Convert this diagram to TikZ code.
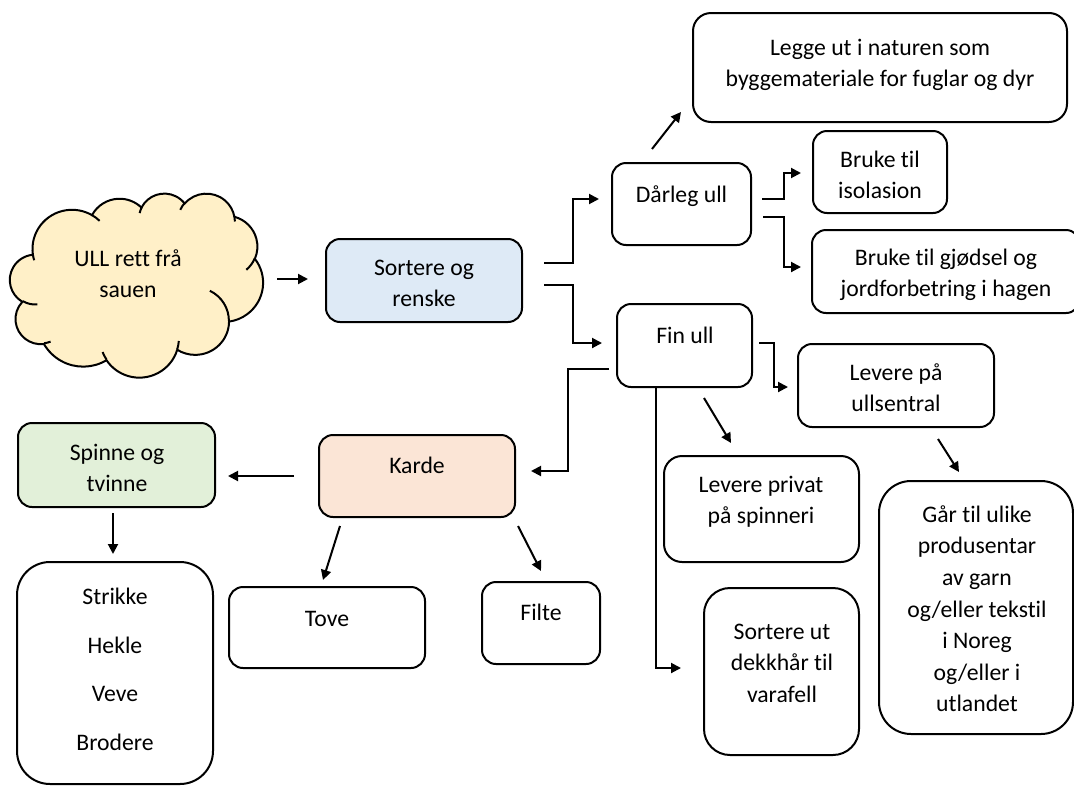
\documentclass[tikz,border=0pt]{standalone}
\usepackage{fontspec}
\setmainfont{Carlito}[Ligatures=NoCommon]
\usetikzlibrary{arrows.meta, calc}
\definecolor{cloudfill}{HTML}{FFF0C8}
\definecolor{bluefill}{HTML}{DEEAF6}
\definecolor{orangefill}{HTML}{FBE5D6}
\definecolor{greenfill}{HTML}{E2F0D9}
\begin{document}
\begin{tikzpicture}[x=1pt, y=-1pt,
  box/.style={draw=black, line width=2pt, rounded corners=14pt, inner sep=0pt},
  txt/.style={font=\fontsize{23.7}{31.6}\selectfont, align=center, inner sep=0pt, anchor=north},
  arr/.style={line width=2pt, -{Triangle[length=10pt,width=10pt]}},
  cloudline/.style={draw=black, line width=2pt},
  ooarc/.style n args={4}{x radius=#1, y radius=#2,
     start angle={atan2(#1*sin(#3),#2*cos(#3))},
     delta angle={mod(atan2(#1*sin(#3+#4),#2*cos(#3+#4))-atan2(#1*sin(#3),#2*cos(#3))+720,360)}}
]
\useasboundingbox (0,0) rectangle (1074,785);
\clip (0,0) rectangle (1074,785);

% cloud (drawn shape) and its anchor node
\begin{scope}[shift={(10,193)}, x=0.058565pt, y=-0.042593pt]
  \path[cloudline, fill=cloudfill] (390,1437)
    foreach \ra/\rb/\sa/\sw in {675.3/919.0/-190.4875/123.7805,
      533.3/726.7/-144.1024/89.9452, 436.5/594.5/-145.8079/99.7230,
      485.7/659.5/-130.9861/117.2417, 533.3/727.3/-78.7089/109.0269,
      677.5/922.0/-46.2673/130.2690, 578.5/786.7/0.6250/114.0333,
      675.2/921.5/22.4516/115.1726, 772.0/1054.3/66.2426/75.7110,
      436.0/591.8/-274.9421/146.7356, 434.5/594.5/-246.8285/152.5189}
    { arc[ooarc={\ra}{\rb}{\sa}{\sw}] } -- cycle;
  \foreach \px/\py/\ra/\rb/\sa/\sw in {469.3/2617.7/434.5/594.5/86.7420/26.4295,
      692.8/3489.9/436.0/591.8/73.6105/11.4475,
      1647.8/3909.0/675.2/921.5/137.6242/14.0811,
      2882.7/3475.1/675.2/921.5/6.4533/15.9984,
      3412.9/2295.4/578.5/786.7/-70.2924/70.9174,
      4179.8/1535.4/533.3/727.3/30.3180/27.7515,
      3832.4/542.6/485.7/659.5/-13.7443/14.8548,
      2907.8/395.2/485.7/659.5/-149.1815/18.1874,
      2214.1/472.0/436.5/594.5/-163.4943/17.6857,
      1400.0/519.2/675.3/919.0/-66.7070/12.3194,
      412.7/1578.9/675.3/919.0/157.6544/11.8582}
    { \draw[cloudline] (\px,\py) arc[ooarc={\ra}{\rb}{\sa}{\sw}]; }
\end{scope}
\node[minimum width=253, minimum height=184, inner sep=0pt] (cloud) at (136.5,285) {};

% boxes
\node[box, fill=bluefill, minimum width=196, minimum height=83] (sort) at (424,280.5) {};
\node[box, minimum width=139, minimum height=82] (dar) at (681.5,204) {};
\node[box, rounded corners=18pt, minimum width=374, minimum height=109] (legge) at (880,67.5) {};
\node[box, minimum width=134, minimum height=82] (iso) at (880,172) {};
\node[box, minimum width=268, minimum height=83] (gjo) at (946,271.5) {};
\node[box, minimum width=135, minimum height=83] (fin) at (684.5,345.5) {};
\node[box, minimum width=196, minimum height=83] (ull) at (896,385.5) {};
\node[box, rounded corners=18pt, minimum width=195, minimum height=106] (privat) at (761.5,509) {};
\node[box, rounded corners=26pt, minimum width=155, minimum height=167] (sortut) at (781.5,671.5) {};
\node[box, rounded corners=32pt, minimum width=194, minimum height=253] (gar) at (976,607.5) {};
\node[box, fill=orangefill, minimum width=196, minimum height=82] (karde) at (417,476) {};
\node[box, fill=greenfill, minimum width=197, minimum height=84] (spinne) at (116.5,465) {};
\node[box, rounded corners=33pt, minimum width=196, minimum height=222] (strikke) at (115,673) {};
\node[box, minimum width=196, minimum height=81] (tove) at (327,627.5) {};
\node[box, minimum width=118, minimum height=82] (filte) at (541,623) {};

% texts
\node[txt] (tcloud) at (128,244) {\strut ULL rett frå\\sauen};
\node[txt] (tsort) at (424,253) {\strut Sortere og\\renske};
\node[txt] (tdar) at (681.5,180) {\strut Dårleg ull};
\node[txt] (tlegge) at (880,33) {\strut Legge ut i naturen som\\byggemateriale for fuglar og dyr};
\node[txt] (tiso) at (880,145) {\strut Bruke til\\isolasion};
\node[txt] (tgjo) at (946,243) {\strut Bruke til gjødsel og\\jordforbetring i hagen};
\node[txt] (tfin) at (685,321) {\strut Fin ull};
\node[txt] (tull) at (896,358) {\strut Levere på\\ullsentral};
\node[txt] (tprivat) at (761,470) {\strut Levere privat\\på spinneri};
\node[txt] (tsortut) at (782,617) {\strut Sortere ut\\dekkhår til\\varafell};
\node[txt] (tgar) at (977,500) {\strut Går til ulike\\produsentar\\av garn\\og/eller tekstil\\i Noreg\\og/eller i\\utlandet};
\node[txt] (tkarde) at (417,451) {\strut Karde};
\node[txt] (tspinne) at (117,438) {\strut Spinne og\\tvinne};
\node[txt] (tstrikke) at (115,582) {\strut Strikke\\[17.1pt]Hekle\\[17.1pt]Veve\\[17.1pt]Brodere};
\node[txt] (ttove) at (327,604) {\strut Tove};
\node[txt] (tfilte) at (541,598) {\strut Filte};

% connectors
\draw[arr] ($(cloud.east)+(14,-6)$) -- ($(sort.west)+(-17,-1.5)$);
\draw[arr] ($(sort.east)+(21,-17.5)$) -- ++(29,0) |- ($(dar.west)+(-12,-5)$);
\draw[arr] ($(sort.east)+(21,4)$) -- ++(29,0) |- ($(fin.west)+(-14,-2.5)$);
\draw[arr] ($(dar.north)+(-29.5,-13)$) -- ($(legge.south west)+(-11,-11)$);
\draw[arr] ($(dar.east)+(10,-5)$) -- ++(22,0) |- ($(iso.west)+(-11,1)$);
\draw[arr] ($(dar.east)+(11,13)$) -- ++(21,0) |- ($(gjo.west)+(-10,-4.5)$);
\draw[arr] ($(fin.east)+(6,-2.5)$) -- ++(15,0) |- ($(ull.west)+(-9,1.5)$);
\draw[arr] ($(fin.south)+(19.5,10)$) -- ($(privat.north)+(-30.5,-12)$);
\draw[arr] ($(fin.south west)+(40,0)$) |- ($(sortut.west)+(-22,-3.5)$);
\draw[arr] ($(fin.west)+(-7,23.5)$) -- ++(-41,0) |- ($(karde.east)+(15,-5)$);
\draw[arr] ($(ull.south)+(42,11)$) -- ($(gar.north)+(-17,-8)$);
\draw[arr] ($(karde.west)+(-24,0)$) -- ($(spinne.east)+(12,11)$);
\draw[arr] ($(spinne.south)+(-3.5,5)$) -- ($(strikke.north)+(-2,-7)$);
\draw[arr] ($(karde.south west)+(22,8)$) -- ($(tove.north)+(-4,-6)$);
\draw[arr] ($(karde.south east)+(2,8)$) -- ($(filte.north)+(0,-10)$);
\end{tikzpicture}
\end{document}
